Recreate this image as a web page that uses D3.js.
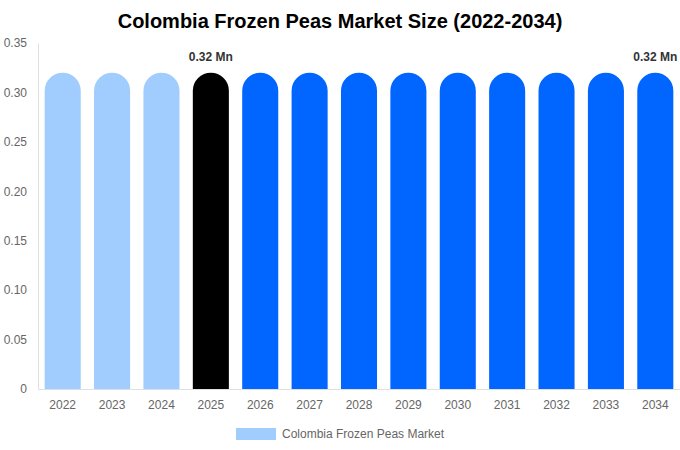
<!DOCTYPE html>
<html>
<head>
<meta charset="utf-8">
<script src="https://cdn.jsdelivr.net/npm/d3@7"></script>
<style>
  body { margin: 0; background: #fff; }
  svg { font-family: "Liberation Sans", Arial, sans-serif; }
</style>
</head>
<body>
<svg id="canvas"></svg>
<script>
// Data
let years = ["2022", "2023", "2024", "2025", "2026", "2027", "2028", "2029", "2030", "2031", "2032", "2033", "2034"];
let values = [0.32, 0.32, 0.32, 0.32, 0.32, 0.32, 0.32, 0.32, 0.32, 0.32, 0.32, 0.32, 0.32];
let yTicks = [0, 0.05, 0.10, 0.15, 0.20, 0.25, 0.30, 0.35];
let labelYears = ["2025", "2034"];
let labelText = "0.32 Mn";
let seriesName = "Colombia Frozen Peas Market";

let width = 680;
let height = 450;
let plotLeft = 38, plotRight = 680, plotTop = 43, plotBottom = 389;

let canvas = d3.select("#canvas").attr("width", width).attr("height", height);

let xScale = d3.scaleBand().domain(years).range([plotLeft, plotRight]).paddingInner(0.27).paddingOuter(0.135);
let yScale = d3.scaleLinear().domain([0, 0.35]).range([plotBottom, plotTop]);

let barColor = (year) => {
  if (+year < 2025) return "#a0cdfd";
  if (+year === 2025) return "#000000";
  return "#0066ff";
};

// title
canvas.append("text")
  .attr("x", width / 2).attr("y", 28)
  .attr("text-anchor", "middle")
  .attr("font-size", 20).attr("font-weight", "bold").attr("fill", "#000")
  .text("Colombia Frozen Peas Market Size (2022-2034)");

// axes
let yAxis = d3.axisLeft(yScale).tickValues(yTicks).tickSize(0).tickPadding(11)
  .tickFormat((d) => d === 0 ? "0" : d3.format(".2f")(d));
let gy = canvas.append("g").attr("transform", "translate(" + plotLeft + ",0)").call(yAxis);
gy.select(".domain").attr("stroke", "#e0e0e0");
gy.selectAll("text").attr("font-size", 12).attr("fill", "#666").attr("font-family", "Liberation Sans, Arial, sans-serif");

let xAxis = d3.axisBottom(xScale).tickSize(0).tickPadding(11);
let gx = canvas.append("g").attr("transform", "translate(0," + plotBottom + ")").call(xAxis);
gx.select(".domain").attr("stroke", "#e0e0e0");
gx.selectAll("text").attr("font-size", 12).attr("fill", "#666").attr("font-family", "Liberation Sans, Arial, sans-serif");

// bars with rounded tops
let barPath = (year, value) => {
  let x0 = xScale(year);
  let w = xScale.bandwidth();
  let r = w / 2;
  let y0 = yScale(value);
  let yb = yScale(0);
  return "M" + x0 + "," + yb +
    "V" + (y0 + r) +
    "A" + r + "," + r + " 0 0 1 " + (x0 + w) + "," + (y0 + r) +
    "V" + yb + "Z";
};

canvas.selectAll(".bar")
  .data(years)
  .enter()
  .append("path")
  .attr("class", "bar")
  .attr("d", (d, i) => barPath(d, values[i]))
  .attr("fill", (d) => barColor(d));

// value labels
canvas.selectAll(".label")
  .data(labelYears)
  .enter()
  .append("text")
  .attr("class", "label")
  .attr("x", (d) => xScale(d) + xScale.bandwidth() / 2)
  .attr("y", (d) => yScale(values[years.indexOf(d)]) - 12)
  .attr("text-anchor", "middle")
  .attr("font-size", 12).attr("font-weight", "bold").attr("fill", "#333")
  .text(labelText);

// legend
let legend = canvas.append("g").attr("transform", "translate(236,428)");
legend.append("rect").attr("width", 40).attr("height", 12).attr("fill", "#a0cdfd");
legend.append("text").attr("x", 46).attr("y", 10)
  .attr("font-size", 12).attr("fill", "#666")
  .text(seriesName);
</script>
</body>
</html>
